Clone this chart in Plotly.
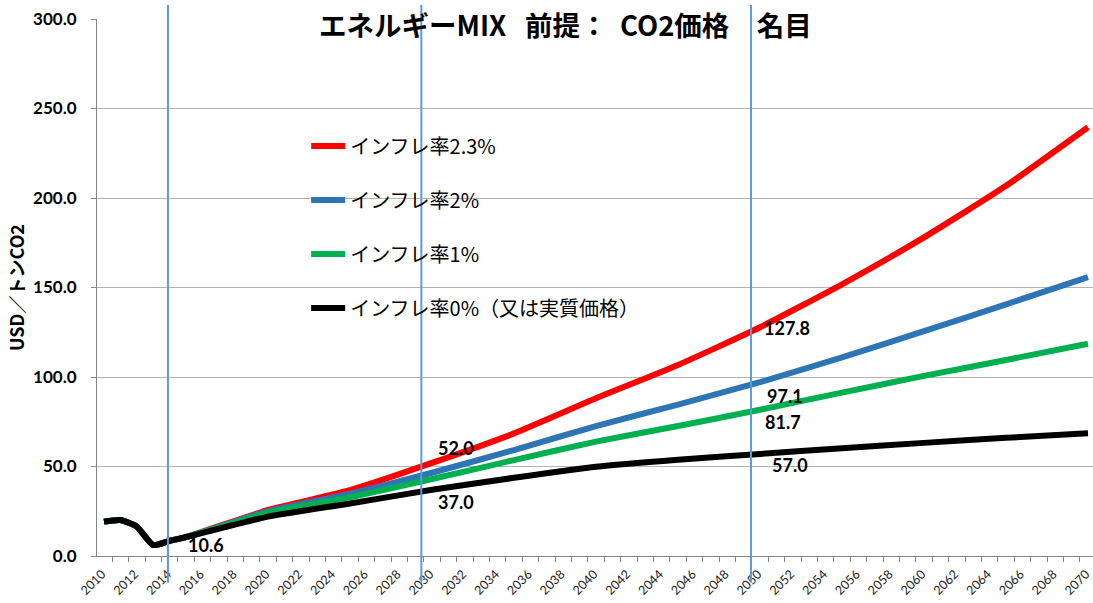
import plotly.graph_objects as go

# Years with read-off price points (USD per tonne CO2)
years = [2010, 2011, 2012, 2013, 2014, 2015, 2020, 2025, 2030, 2035,
         2040, 2045, 2050, 2055, 2060, 2065, 2070]

history = [19.2, 20.1, 16.4, 6.1, 8.5, 10.6]

infl_23 = history + [25.7, 36.8, 52.0, 68.5, 88.1, 106.7, 127.8, 151.8, 178.0, 206.8, 239.5]
infl_2 = history + [25.0, 34.8, 46.5, 59.2, 72.6, 84.6, 97.1, 111.0, 125.6, 140.6, 155.8]
infl_1 = history + [24.2, 32.8, 43.0, 53.6, 63.9, 72.6, 81.7, 91.3, 100.6, 109.5, 118.6]
infl_0 = history + [22.0, 29.3, 37.0, 43.7, 49.9, 53.8, 57.0, 60.2, 63.2, 66.0, 68.6]

series_names = ["インフレ率2.3%", "インフレ率2%", "インフレ率1%", "インフレ率0%（又は実質価格）"]
series_values = [infl_23, infl_2, infl_1, infl_0]
series_colors = ["#FF0000", "#2E75B6", "#00B050", "#000000"]

# Reference years marked with vertical guide lines
guide_years = [2013.9, 2029.35, 2049.45]

# Value labels: (year, series index, label offset x, label offset y)
label_points = [
    (2015, 3, 20, -8),
    (2030, 0, 24, 15),
    (2030, 3, 24, -12),
    (2050, 0, 27, -1),
    (2050, 1, 25, -14),
    (2050, 2, 23, -12),
    (2050, 3, 30, -11),
]

title_text = "エネルギーMIX&nbsp;&nbsp;&nbsp;前提：&nbsp;&nbsp;CO2価格　名目"
y_title = "USD／トンCO2"

JP = "Noto Sans CJK JP"
NUM = "Lato, 'Noto Sans CJK JP', sans-serif"

fig = go.Figure()
for i, (name, vals, col) in enumerate(zip(series_names, series_values, series_colors)):
    fig.add_trace(go.Scatter(
        x=years, y=vals, mode="lines", name=name,
        line=dict(color=col, width=6, shape="spline", smoothing=0.5),
        legendgroup=f"g{i}",
    ))

for yr in guide_years:
    fig.add_shape(type="line", xref="x", yref="paper",
                  x0=yr, x1=yr, y0=-0.05, y1=1.026,
                  line=dict(color="#5B9BD5", width=2), layer="above")

for yr, si, dx, dy in label_points:
    v = series_values[si][years.index(yr)]
    fig.add_annotation(x=yr, y=v, xref="x", yref="y", text=f"{v:.1f}",
                       showarrow=False, xshift=dx, yshift=dy,
                       font=dict(family=NUM, size=18, color="#000000", weight="bold"))

fig.add_annotation(x=0.47, y=1 - (24 - 19) / 537, xref="paper", yref="paper",
                   text=title_text, showarrow=False, xanchor="center", yanchor="middle",
                   font=dict(family=JP, size=27.5, color="#000000", weight="bold"))

fig.update_layout(
    width=1093, height=603,
    margin=dict(l=97, r=0, t=19, b=47, autoexpand=False),
    paper_bgcolor="white", plot_bgcolor="white",
    showlegend=True,
    legend=dict(x=0.21, y=0.80, xanchor="left", yanchor="top",
                traceorder="grouped", tracegroupgap=25, itemwidth=34,
                font=dict(family=JP, size=20, color="#000000"),
                bgcolor="rgba(0,0,0,0)", borderwidth=0),
    xaxis=dict(
        range=[2009.573, 2070.305], tickmode="linear", tick0=2010, dtick=2,
        tickangle=-45, ticks="outside", ticklen=5, tickcolor="rgba(0,0,0,0)",
        tickfont=dict(family="Lato, sans-serif", size=12.5, color="#222222"),
        ticklabeloverflow="allow", ticklabelshift=-2,
        showgrid=False, zeroline=False,
        showline=True, linecolor="#868686", linewidth=1,
        minor=dict(tick0=2009.5, dtick=1, ticks="outside", ticklen=5,
                   tickcolor="#868686", showgrid=False),
    ),
    yaxis=dict(
        range=[0, 300], tickmode="linear", tick0=0, dtick=50, tickformat=".1f",
        ticks="outside", ticklen=5, tickcolor="#868686", ticklabelstandoff=11,
        tickfont=dict(family=NUM, size=17, color="#000000", weight="bold"),
        showgrid=True, gridcolor="#B3B3B3", gridwidth=1, zeroline=False,
        showline=True, linecolor="#868686", linewidth=1,
        title=dict(text=y_title, standoff=3,
                   font=dict(family=JP, size=18, color="#000000", weight="bold")),
    ),
)

fig.write_html("out.html")
